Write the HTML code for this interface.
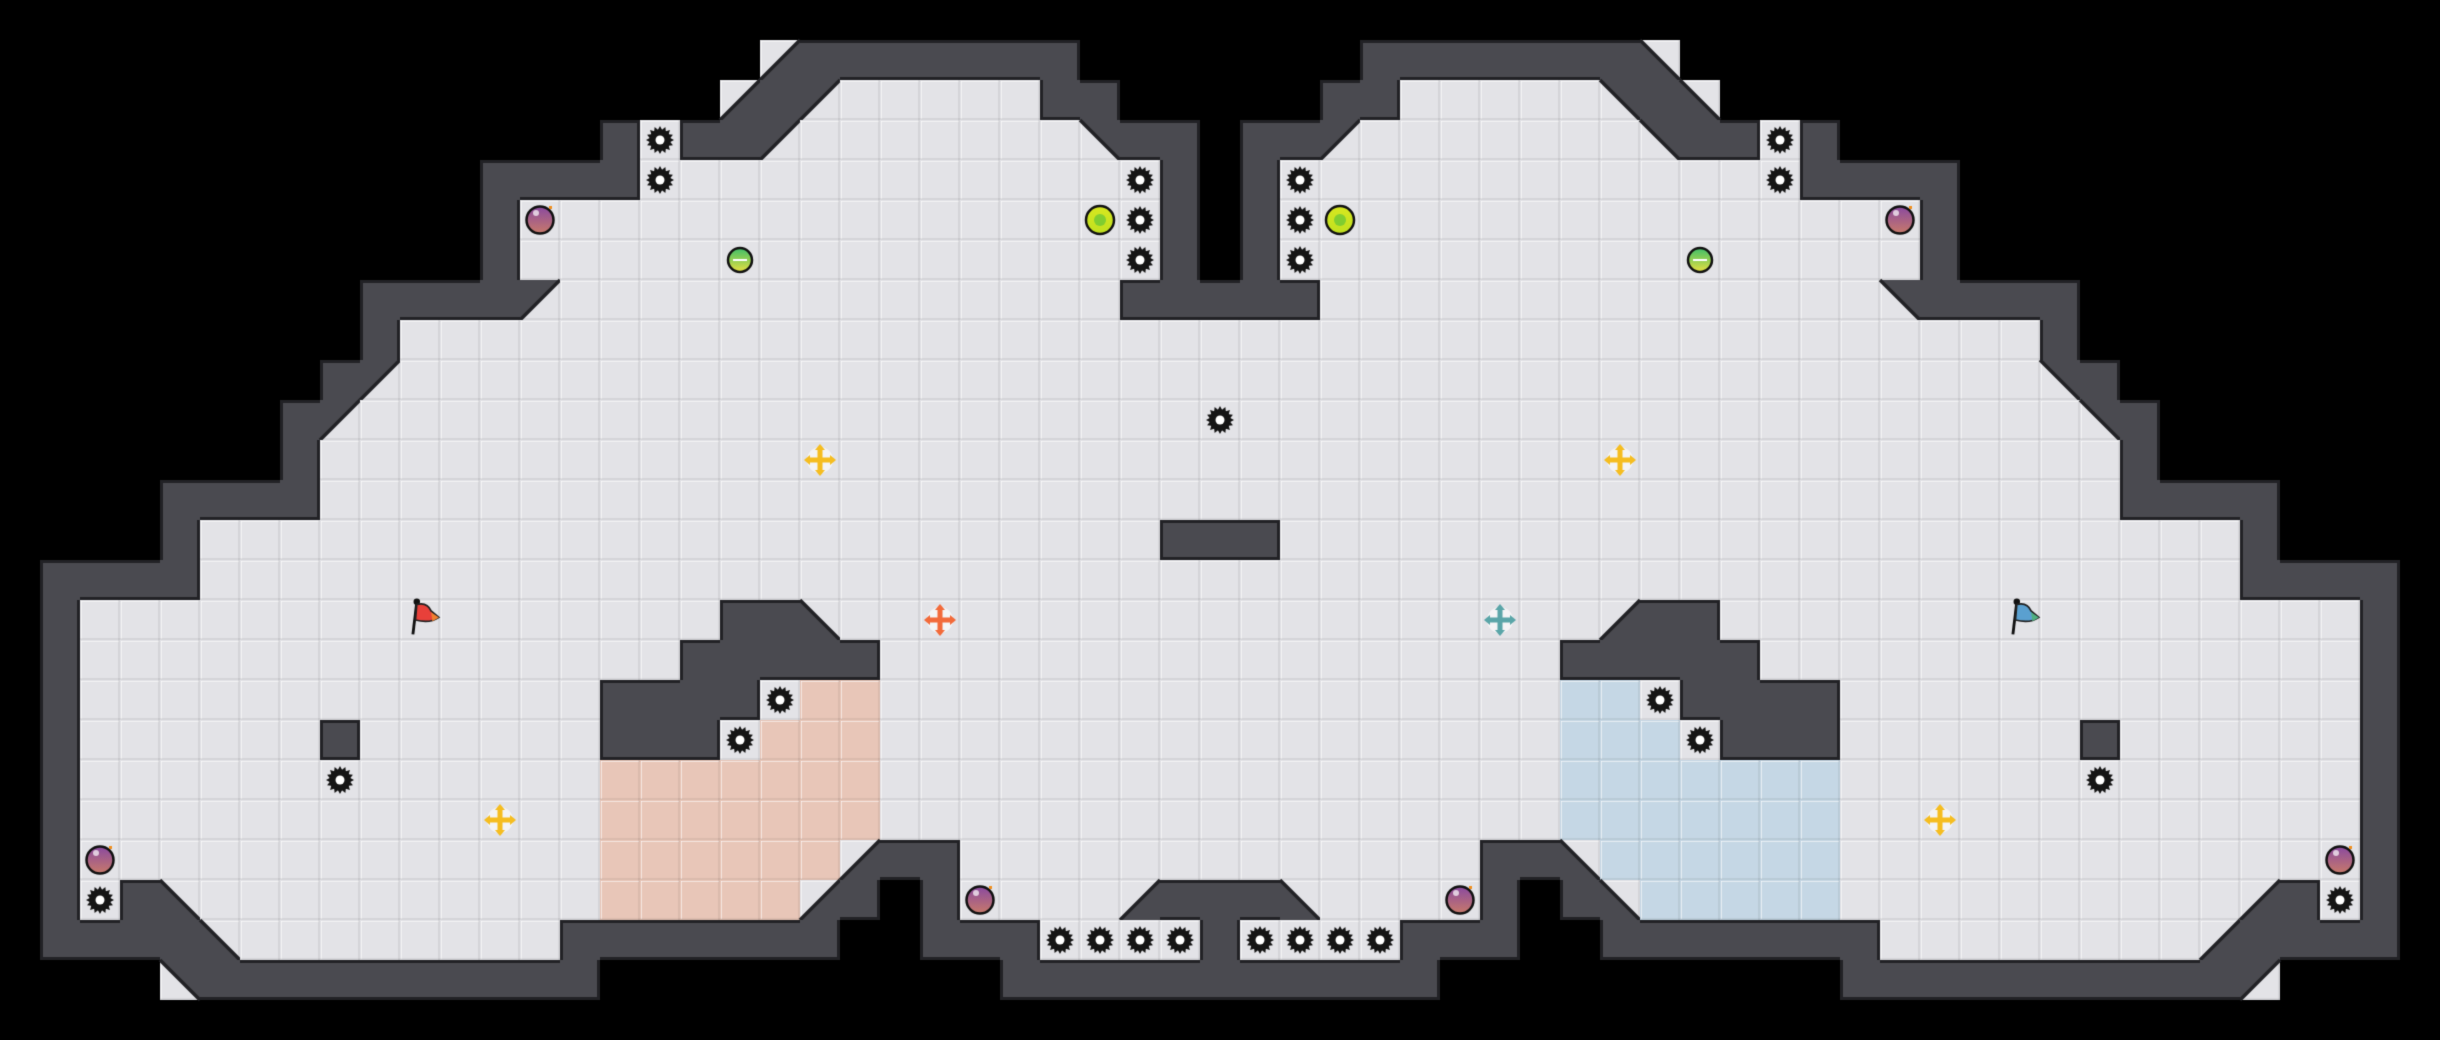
<!DOCTYPE html>
<html><head><meta charset="utf-8"><style>
html,body{margin:0;padding:0;background:#000;width:2440px;height:1040px;overflow:hidden}
canvas{display:block}
</style></head><body>
<canvas id="c" width="2440" height="1040"></canvas>
<script>
var p=function(s,n){return s.repeat(n);};
var L=[
p(' ',31),
p(' ',19)+'s'+p('#',7)+p(' ',4),
p(' ',18)+'s#q'+p('.',5)+'##'+p(' ',3),
p(' ',15)+'#S##q'+p('.',7)+'w##'+' ',
p(' ',12)+'####S'+p('.',11)+'S#'+' ',
p(' ',12)+'#B'+p('.',13)+'LS#'+' ',
p(' ',12)+'#'+p('.',5)+'G'+p('.',9)+'S#'+' ',
p(' ',9)+'####q'+p('.',14)+'###',
p(' ',9)+'#'+p('.',21),
p(' ',8)+'#q'+p('.',21),
p(' ',7)+'#q'+p('.',21)+'S',
p(' ',7)+'#'+p('.',12)+'Y'+p('.',10),
p(' ',4)+'####'+p('.',23),
p(' ',4)+'#'+p('.',24)+'##',
' '+'####'+p('.',26),
' #'+p('.',8)+'F'+p('.',7)+'##a..R'+p('.',7),
' #'+p('.',15)+'#####'+p('.',9),
' #'+p('.',13)+'####SEE'+p('.',9),
' #'+p('.',6)+'#'+p('.',6)+'###SEEE'+p('.',9),
' #'+p('.',6)+'S'+p('.',6)+p('E',7)+p('.',9),
' #'+p('.',10)+'Y..'+p('E',7)+p('.',9),
' #B'+p('.',12)+p('E',6)+'s##'+p('.',7),
' #S#a'+p('.',10)+p('E',5)+'s# #B...s##',
' ####a'+p('.',8)+p('#',7)+'  ###SSSS#',
'    w'+p('#',10)+p(' ',10)+p('#',6),
p(' ',31)
];
var MI={q:'w',w:'q',a:'s',s:'a',R:'r',F:'f',E:'e'};
var G=[];
for(var r=0;r<26;r++){var row=[];for(var c=0;c<61;c++){if(c<=30)row.push(L[r][c]);else{var ch=L[r][60-c];row.push(MI[ch]||ch);}}G.push(row);}
var cv=document.getElementById('c'),x=cv.getContext('2d'),T=40;
x.fillStyle='#000';x.fillRect(0,0,2440,1040);
function tile(px,py,col){x.fillStyle=col;x.fillRect(px,py,T,T);
 x.fillStyle='rgba(255,255,255,0.55)';x.fillRect(px+1,py+1,T-2,1);x.fillRect(px+1,py+1,1,T-2);
 x.fillStyle='rgba(0,0,0,0.06)';x.fillRect(px,py+T-2,T,2);x.fillRect(px+T-2,py,2,T);}
var WALL='#4a4a50',EDGE='#222226';
function isW(ch){return ch==='#';}
function diag(ch){return 'qwas'.indexOf(ch)>=0;}
for(var r=0;r<26;r++)for(var c=0;c<61;c++){
 var ch=G[r][c],px=c*T,py=r*T;
 if(ch===' ')continue;
 if(ch==='#'){x.fillStyle=WALL;x.fillRect(px,py,T,T);continue;}
 var fc='#e3e3e7';
 if(ch==='E')fc='#e8c6b8';if(ch==='e')fc='#c5d7e5';
 tile(px,py,fc);
 if(diag(ch)){
  x.fillStyle=WALL;x.beginPath();
  if(ch==='q'){x.moveTo(px,py);x.lineTo(px+T,py);x.lineTo(px,py+T);}
  if(ch==='w'){x.moveTo(px,py);x.lineTo(px+T,py);x.lineTo(px+T,py+T);}
  if(ch==='a'){x.moveTo(px,py);x.lineTo(px,py+T);x.lineTo(px+T,py+T);}
  if(ch==='s'){x.moveTo(px+T,py);x.lineTo(px+T,py+T);x.lineTo(px,py+T);}
  x.closePath();x.fill();
  x.strokeStyle=EDGE;x.lineWidth=3.5;x.beginPath();
  if(ch==='q'||ch==='s'){x.moveTo(px+T,py);x.lineTo(px,py+T);}else{x.moveTo(px,py);x.lineTo(px+T,py+T);}
  x.stroke();
 }
}
x.fillStyle=EDGE;
function g(r,c){if(r<0||r>25||c<0||c>60)return ' ';return G[r][c];}
for(var r=0;r<26;r++)for(var c=0;c<61;c++){
 if(G[r][c]!=='#')continue;var px=c*T,py=r*T;
 var n=g(r-1,c),s=g(r+1,c),w=g(r,c-1),e=g(r,c+1);
 if(!isW(n)&&!(diag(n)&&(n==='a'||n==='s')))x.fillRect(px,py,T,3);
 if(!isW(s)&&!(diag(s)&&(s==='q'||s==='w')))x.fillRect(px,py+T-3,T,3);
 if(!isW(w)&&!(diag(w)&&(w==='w'||w==='s')))x.fillRect(px,py,3,T);
 if(!isW(e)&&!(diag(e)&&(e==='q'||e==='a')))x.fillRect(px+T-3,py,3,T);
}
function spike(cx,cy){x.fillStyle='#151515';x.beginPath();
 for(var i=0;i<32;i++){var a=i*Math.PI/16,rr=i%2?10.5:14;x.lineTo(cx+rr*Math.cos(a),cy+rr*Math.sin(a));}
 x.closePath();x.fill();x.beginPath();x.arc(cx,cy,10.5,0,7);x.fill();
 x.fillStyle='#fff';x.beginPath();x.arc(cx,cy,4.5,0,7);x.fill();}
function ball(cx,cy,c1,c2,rad){var gr=x.createLinearGradient(cx,cy-rad,cx,cy+rad);gr.addColorStop(0,c1);gr.addColorStop(1,c2);
 x.fillStyle=gr;x.beginPath();x.arc(cx,cy,rad,0,7);x.fill();x.strokeStyle='#111';x.lineWidth=2.5;x.stroke();}
function bomb(cx,cy){ball(cx,cy,'#8a4aa0','#c87a6a',13.5);x.fillStyle='rgba(255,255,255,0.7)';x.beginPath();x.arc(cx-4,cy-7,3,0,7);x.fill();
 x.fillStyle='#f09020';x.fillRect(cx+9,cy-14,3,3);}
function boost(cx,cy,col){x.fillStyle='rgba(255,255,255,0.6)';x.beginPath();x.arc(cx,cy,13,0,7);x.fill();
 x.fillStyle=col;x.fillRect(cx-12,cy-2.5,24,5);x.fillRect(cx-2.5,cy-12,5,24);
 var tri=function(a,b,c2,d,e,f){x.beginPath();x.moveTo(a,b);x.lineTo(c2,d);x.lineTo(e,f);x.closePath();x.fill();};
 tri(cx,cy-16,cx-5,cy-10,cx+5,cy-10);tri(cx,cy+16,cx-5,cy+10,cx+5,cy+10);
 tri(cx-16,cy,cx-10,cy-5,cx-10,cy+5);tri(cx+16,cy,cx+10,cy-5,cx+10,cy+5);}
function flag(px,py,col,col2){x.save();x.translate(px-4,py-6);x.scale(1.3,1.3);
 x.strokeStyle='#111';x.lineWidth=2.2;x.beginPath();x.moveTo(13,31);x.lineTo(16,6);x.stroke();
 x.fillStyle='#111';x.beginPath();x.arc(16,6,2.5,0,7);x.fill();
 x.fillStyle=col;x.beginPath();x.moveTo(16,8);x.quadraticCurveTo(24,6,27,13);x.lineTo(33,18);x.quadraticCurveTo(26,23,15,20);x.closePath();x.fill();
 x.strokeStyle='#222';x.lineWidth=1.3;x.stroke();x.fillStyle=col2;x.beginPath();x.moveTo(27,14);x.lineTo(33,18);x.lineTo(28,21);x.fill();x.restore();}
for(var r=0;r<26;r++)for(var c=0;c<61;c++){
 var ch=G[r][c],px=c*T,py=r*T,cx=px+20,cy=py+20;
 if(ch==='S')spike(cx,cy);
 else if(ch==='B')bomb(cx,cy);
 else if(ch==='G'){ball(cx,cy,'#3fbf6a','#e8e040',12);x.fillStyle='#fff';x.fillRect(cx-7,cy-1,14,2);}
 else if(ch==='L'){ball(cx,cy,'#d8e820','#c0e020',14);x.fillStyle='rgba(80,190,60,0.6)';x.beginPath();x.arc(cx,cy,6,0,7);x.fill();}
 else if(ch==='Y')boost(cx,cy,'#f5bd20');
 else if(ch==='R')boost(cx,cy,'#f26a3a');
 else if(ch==='r')boost(cx,cy,'#5aa5a8');
 else if(ch==='F')flag(px,py,'#e8403a','#f08030');
 else if(ch==='f')flag(px,py,'#5aa0d0','#50b080');
}
</script>
</body></html>
